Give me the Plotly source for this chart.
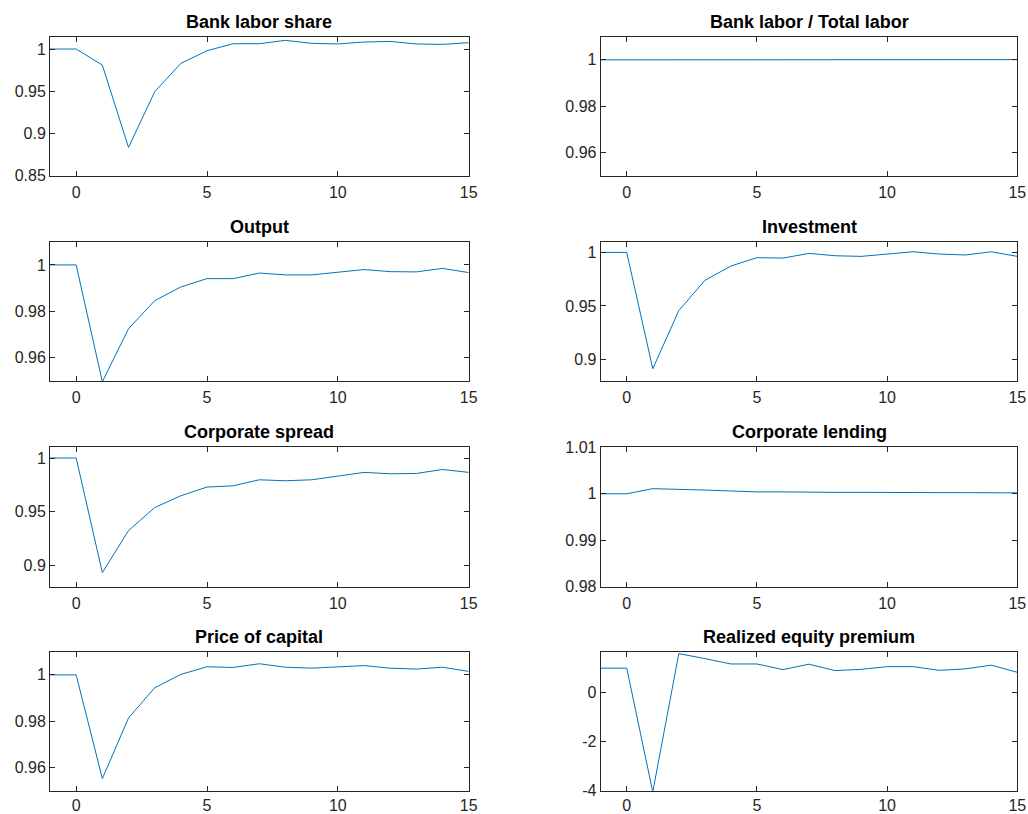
import plotly.graph_objects as go

periods = list(range(-1, 16))

titles = ["Bank labor share", "Bank labor / Total labor", "Output", "Investment",
          "Corporate spread", "Corporate lending", "Price of capital", "Realized equity premium"]

bank_labor_share = [1.0, 1.0, 0.981, 0.8835, 0.9494, 0.983, 0.998, 1.0063, 1.0063, 1.0103,
                    1.0067, 1.006, 1.0083, 1.009, 1.006, 1.0055, 1.0075]
bank_total_labor = [1.0, 1.0, 1.0, 1.0002, 1.0003, 1.0002, 1.0002, 1.0001, 1.0001, 1.0001,
                    1.0001, 1.0001, 1.0001, 1.0001, 1.0001, 1.0001, 1.0001]
output = [1.0, 1.0, 0.9497, 0.9725, 0.9846, 0.9905, 0.9941, 0.9941, 0.9965, 0.9957,
          0.9957, 0.997, 0.998, 0.9971, 0.997, 0.9985, 0.9967]
investment = [1.0, 1.0, 0.8914, 0.9457, 0.9739, 0.9873, 0.9951, 0.9947, 0.9991, 0.9969,
              0.9963, 0.9988, 1.0006, 0.9985, 0.9976, 1.0006, 0.9963]
corporate_spread = [1.0, 1.0, 0.8931, 0.9323, 0.9538, 0.9648, 0.9729, 0.9741, 0.9797, 0.9788,
                    0.9797, 0.9835, 0.9866, 0.9853, 0.9856, 0.9893, 0.9866]
corporate_lending = [1.0, 1.0, 1.0011, 1.001, 1.0008, 1.0006, 1.0004, 1.0004, 1.0003, 1.0003,
                     1.0003, 1.0003, 1.0002, 1.0002, 1.0002, 1.0002, 1.0002]
price_of_capital = [1.0, 1.0, 0.9552, 0.9814, 0.9944, 1.0002, 1.0035, 1.0032, 1.0048, 1.0033,
                    1.0029, 1.0036, 1.004, 1.0029, 1.0025, 1.0033, 1.0015]
equity_premium = [1.0, 1.0, -4.05, 1.59, 1.39, 1.17, 1.17, 0.94, 1.16, 0.90,
                  0.95, 1.06, 1.06, 0.91, 0.97, 1.12, 0.83]

series = [bank_labor_share, bank_total_labor, output, investment,
          corporate_spread, corporate_lending, price_of_capital, equity_premium]

y_ranges = [[0.85, 1.0146], [0.95, 1.01], [0.95, 1.01], [0.88, 1.01],
            [0.88, 1.01], [0.98, 1.01], [0.95, 1.01], [-4.0, 1.67]]
y_tickvals = [[0.85, 0.9, 0.95, 1], [0.96, 0.98, 1], [0.96, 0.98, 1], [0.9, 0.95, 1],
              [0.9, 0.95, 1], [0.98, 0.99, 1, 1.01], [0.96, 0.98, 1], [-4, -2, 0]]
y_ticktext = [["0.85", "0.9", "0.95", "1"], ["0.96", "0.98", "1"], ["0.96", "0.98", "1"],
              ["0.9", "0.95", "1"], ["0.9", "0.95", "1"], ["0.98", "0.99", "1", "1.01"],
              ["0.96", "0.98", "1"], ["-4", "-2", "0"]]
x_tickvals = [0, 5, 10, 15]
x_ticktext = ["0", "5", "10", "15"]

W, H = 1028, 814
col_px = [(50, 468.7), (600.7, 1017.3)]
row_px = [(36.7, 175.7), (241.7, 381.0), (447.3, 586.7), (651.7, 790.7)]

axis_color = "#262626"
font_family = "Liberation Sans, Arial, Helvetica, sans-serif"

fig = go.Figure()
layout = dict(
    template="none",
    width=W, height=H, autosize=False,
    margin=dict(l=0, r=0, t=0, b=0, pad=0),
    paper_bgcolor="white", plot_bgcolor="white",
    showlegend=False,
    font=dict(family=font_family, size=16, color=axis_color),
)
annotations = []
for i in range(8):
    r, c = divmod(i, 2)
    x0, x1 = col_px[c]
    top, bot = row_px[r]
    xd = [x0 / W, x1 / W]
    yd = [1 - bot / H, 1 - top / H]
    n = "" if i == 0 else str(i + 1)
    fig.add_trace(go.Scatter(
        x=periods, y=series[i], mode="lines",
        line=dict(color="#0072BD", width=1),
        xaxis="x" + n, yaxis="y" + n, cliponaxis=True,
    ))
    common = dict(showgrid=False, zeroline=False, showline=True, linecolor=axis_color,
                  linewidth=1, mirror="ticks", ticks="inside", ticklen=5, tickwidth=1,
                  tickcolor=axis_color, automargin=False,
                  tickfont=dict(size=16, color=axis_color, family=font_family))
    layout["xaxis" + n] = dict(domain=xd, anchor="y" + n, range=[-1, 15],
                               tickvals=x_tickvals, ticktext=x_ticktext,
                               ticklabelstandoff=(2 if r < 3 else 0), **common)
    layout["yaxis" + n] = dict(domain=yd, anchor="x" + n, range=y_ranges[i],
                               tickvals=y_tickvals[i], ticktext=y_ticktext[i], **common)
    annotations.append(dict(
        text="<b>" + titles[i] + "</b>", x=(xd[0] + xd[1]) / 2, y=yd[1],
        xref="paper", yref="paper", xanchor="center", yanchor="bottom",
        yshift=3, showarrow=False, font=dict(size=18, color="black", family=font_family),
    ))
layout["annotations"] = annotations
fig.update_layout(**layout)
fig.write_html("out.html")
